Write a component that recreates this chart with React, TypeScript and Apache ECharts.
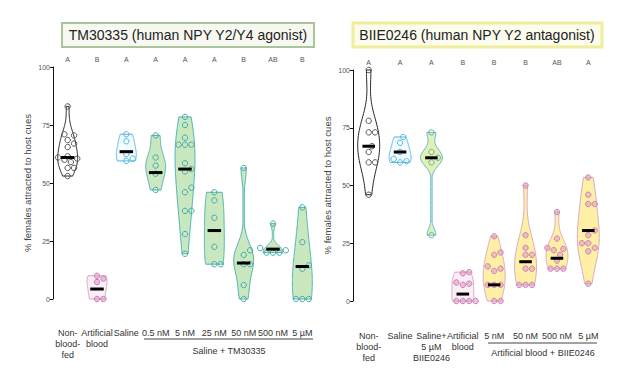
import React, { useEffect, useRef } from "react";
import * as echarts from "echarts";

// ---------- data ----------
const leftCategories = ["Non-\nblood-\nfed", "Artificial\nblood", "Saline", "0.5 nM", "5 nM", "25 nM", "50 nM", "500 nM", "5 µM"];
const leftLetters = ["A", "B", "A", "A", "A", "A", "B", "AB", "B"];
const leftPoints: number[][] = [
  [83, 71, 70.5, 68.5, 67, 65.5, 61.5, 61, 60.5, 60, 59, 56.5, 56.5, 53],
  [10, 8.8, 7.3, 0, 0],
  [71, 68, 62.5, 60.5, 59.5],
  [70.5, 61, 57.5, 54, 47],
  [78.5, 75, 69.5, 66.5, 66.5, 66.5, 58.5, 56, 55, 48, 46, 38, 38, 28, 19.5],
  [46, 42.5, 35, 22.5, 15, 15],
  [56.5, 21, 19, 15, 15, 6, 0],
  [32.5, 22, 21, 20, 20, 20],
  [39.5, 24.5, 14.5, 13, 0, 0, 0],
];
const leftMedians = [61, 4.3, 63.5, 54.5, 56, 29.5, 15.5, 21.5, 14];
const leftGroupName = "Saline + TM30335";

const rightCategories = ["Non-\nblood-\nfed", "Saline", "Saline+\n5 µM\nBIIE0246", "Artificial\nblood", "5 nM", "50 nM", "500 nM", "5 µM"];
const rightLetters = ["A", "A", "A", "B", "B", "B", "AB", "A"];
const rightPoints: number[][] = [
  [100, 78, 73, 73, 67, 64.5, 60, 60, 46],
  [71, 68.5, 64.5, 61.5, 60.5, 60],
  [73, 64.5, 62, 60, 28.5],
  [12.5, 12, 8, 7.5, 7, 0, 0, 0, 0],
  [28, 21, 20, 15, 14, 13, 7, 7, 7, 0, 0],
  [50, 28.5, 23, 20, 20, 14, 14, 7, 7, 7],
  [38.5, 27, 23, 22.5, 22, 20, 17.5, 14, 14, 14],
  [53.5, 46, 42, 42, 30.5, 28.5, 25, 25, 23, 21.5, 7.5],
];
const rightMedians = [67, 64.5, 62, 3, 7, 17, 18.5, 30.5];
const rightGroupName = "Artificial blood + BIIE0246";

const yTicks = [0, 25, 50, 75, 100];
const yName = "% females attracted to host cues";
const leftTitle = "TM30335 (human NPY Y2/Y4 agonist)";
const rightTitle = "BIIE0246 (human NPY Y2 antagonist)";

// ---------- styles ----------
type Sty = { fill: string; stroke: string; dotFill: string; dotStroke: string };
const STY: Record<string, Sty> = {
  nbf: { fill: "#ffffff", stroke: "#222222", dotFill: "rgba(255,255,255,0)", dotStroke: "#555555" },
  ab: { fill: "#fbeef6", stroke: "#d79ec4", dotFill: "rgba(225,150,200,0.55)", dotStroke: "#c77fb0" },
  sal: { fill: "#f3fbff", stroke: "#4fb6e0", dotFill: "rgba(255,255,255,0)", dotStroke: "#4fb6e0" },
  tm: { fill: "#c9e8bf", stroke: "#4db4b4", dotFill: "rgba(255,255,255,0)", dotStroke: "#45a9ab" },
  salb: { fill: "#e3f0b2", stroke: "#62bada", dotFill: "rgba(255,255,255,0)", dotStroke: "#5db3b8" },
  abb: { fill: "#fff0a6", stroke: "#d9a7c2", dotFill: "rgba(225,150,200,0.55)", dotStroke: "#c985b2" },
};
const leftStyleKeys = ["nbf", "ab", "sal", "tm", "tm", "tm", "tm", "tm", "tm"];
const rightStyleKeys = ["nbf", "sal", "salb", "ab", "abb", "abb", "abb", "abb"];

function quantile(s: number[], q: number) {
  const pos = (s.length - 1) * q;
  const lo = Math.floor(pos), hi = Math.ceil(pos);
  return s[lo] + (s[hi] - s[lo]) * (pos - lo);
}

function kdeProfile(pts: number[]): [number, number][] {
  const s = pts.slice().sort((a, b) => a - b);
  const n = s.length;
  const mean = s.reduce((a, b) => a + b, 0) / n;
  const sd = Math.sqrt(s.reduce((a, b) => a + (b - mean) * (b - mean), 0) / Math.max(1, n - 1));
  const iqr = quantile(s, 0.75) - quantile(s, 0.25);
  let spread = Math.min(sd, iqr / 1.34);
  if (!(spread > 0)) spread = sd;
  const h = Math.max(2.2, 1.2 * spread * Math.pow(n, -0.2));
  const lo = s[0], hi = s[n - 1];
  const steps = 80;
  const out: [number, number][] = [];
  let mx = 0;
  for (let k = 0; k <= steps; k++) {
    const y = lo + ((hi - lo) * k) / steps;
    let d = 0;
    for (const p of s) d += Math.exp(-0.5 * ((y - p) / h) ** 2);
    out.push([y, d]);
    if (d > mx) mx = d;
  }
  return out.map(([y, d]) => [y, d / mx]);
}

function violinRender(groups: number[][], keys: string[], frac: number) {
  return (params: any, api: any) => {
    const i = api.value(0);
    const st = STY[keys[i]];
    const band = api.size([1, 0])[0];
    const hw = band * frac;
    const prof = kdeProfile(groups[i]);
    const right = prof.map(([y, d]) => {
      const c = api.coord([i, y]);
      return [c[0] + Math.max(d * hw, 0.7), c[1]];
    });
    const left = prof
      .slice()
      .reverse()
      .map(([y, d]) => {
        const c = api.coord([i, y]);
        return [c[0] - Math.max(d * hw, 0.7), c[1]];
      });
    return {
      type: "polygon",
      shape: { points: right.concat(left) },
      style: { fill: st.fill, stroke: st.stroke, lineWidth: 1 },
    };
  };
}

function dotsRender(groups: number[][], keys: string[]) {
  return (params: any, api: any) => {
    const i = api.value(0);
    const st = STY[keys[i]];
    const r = 2.7;
    const dia = 2 * r + 1;
    const vals = groups[i].slice().sort((a, b) => a - b);
    const placed: [number, number][] = [];
    const children: any[] = [];
    for (const v of vals) {
      const c = api.coord([i, v]);
      const offs = [0, 0.5, -0.5, 1, -1, 1.5, -1.5, 2, -2];
      let x = c[0];
      for (const o of offs) {
        const cx = c[0] + o * dia;
        const ok = placed.every(([px, py]) => Math.hypot(px - cx, py - c[1]) >= dia * 0.95);
        if (ok) { x = cx; break; }
      }
      placed.push([x, c[1]]);
      children.push({
        type: "circle",
        shape: { cx: x, cy: c[1], r },
        style: { fill: st.dotFill, stroke: st.dotStroke, lineWidth: 1 },
      });
    }
    return { type: "group", children };
  };
}

function medianRender(meds: number[], frac: number) {
  return (params: any, api: any) => {
    const i = api.value(0);
    const band = api.size([1, 0])[0];
    const hw = band * frac;
    const c = api.coord([i, meds[i]]);
    return {
      type: "rect",
      shape: { x: c[0] - hw, y: c[1] - 1.5, width: hw * 2, height: 3 },
      style: { fill: "#000000" },
    };
  };
}

const FONT = "Arial, 'Liberation Sans', sans-serif";

export default function App() {
  const ref = useRef<HTMLDivElement>(null);
  useEffect(() => {
    document.body.style.margin = "0";
    if (!ref.current) return;
    const chart = echarts.init(ref.current, null, { renderer: "svg" });

    const yAxisBase = (gridIndex: number) => ({
      type: "value",
      gridIndex,
      min: 0,
      max: 100,
      interval: 25,
      name: yName,
      nameLocation: "middle",
      nameGap: 21,
      nameTextStyle: { fontSize: 9.5, color: "#444", fontFamily: FONT },
      axisLine: { show: true, lineStyle: { color: "#111", width: 1 } },
      axisTick: { show: true, length: 3, lineStyle: { color: "#111" } },
      axisLabel: {
        fontSize: 7,
        color: "#555",
        fontFamily: FONT,
        margin: 3,
        formatter: (v: number) => (yTicks.includes(v) ? String(v) : ""),
      },
      splitLine: { show: false },
    });

    const xBottom = (gridIndex: number, data: string[], margin: number) => ({
      type: "category",
      gridIndex,
      data,
      position: "bottom",
      axisLine: { show: false },
      axisTick: { show: false },
      axisLabel: { interval: 0, fontSize: 9, lineHeight: 11, color: "#333", fontFamily: FONT, margin },
    });
    const xTop = (gridIndex: number, data: string[]) => ({
      type: "category",
      gridIndex,
      data,
      position: "top",
      axisLine: { show: false },
      axisTick: { show: false },
      axisLabel: { interval: 0, fontSize: 7, color: "#555", fontFamily: FONT, margin: 4 },
    });

    const idx = (arr: any[]) => arr.map((_, i) => [i]);

    const panelSeries = (
      xi: number,
      yi: number,
      pts: number[][],
      keys: string[],
      meds: number[],
      frac: number,
      mfrac: number
    ) => [
      {
        type: "custom",
        xAxisIndex: xi,
        yAxisIndex: yi,
        data: idx(pts),
        encode: { x: 0 },
        renderItem: violinRender(pts, keys, frac),
        z: 1,
      },
      {
        type: "custom",
        xAxisIndex: xi,
        yAxisIndex: yi,
        data: idx(pts),
        encode: { x: 0 },
        renderItem: dotsRender(pts, keys),
        z: 2,
      },
      {
        type: "custom",
        xAxisIndex: xi,
        yAxisIndex: yi,
        data: idx(pts),
        encode: { x: 0 },
        renderItem: medianRender(meds, mfrac),
        z: 3,
      },
    ];

    chart.setOption({
      animation: false,
      backgroundColor: "#ffffff",
      grid: [
        { left: 53, top: 67, width: 264, bottom: 73 },
        { left: 353, top: 70, width: 251, bottom: 71 },
      ],
      xAxis: [
        xBottom(0, leftCategories, 28),
        xTop(0, leftLetters),
        xBottom(1, rightCategories, 29),
        xTop(1, rightLetters),
      ],
      yAxis: [yAxisBase(0), yAxisBase(1)],
      series: [
        ...panelSeries(0, 0, leftPoints, leftStyleKeys, leftMedians, 0.34, 0.23),
        ...panelSeries(2, 1, rightPoints, rightStyleKeys, rightMedians, 0.35, 0.2),
      ],
      graphic: [
        {
          type: "rect",
          shape: { x: 62, y: 23, width: 252, height: 24 },
          style: { fill: "#f6f8f1", stroke: "#aac49b", lineWidth: 2 },
        },
        {
          type: "text",
          x: 188,
          y: 35,
          style: { text: leftTitle, fontSize: 14, fontFamily: FONT, fill: "#222", align: "center", verticalAlign: "middle" },
        },
        {
          type: "rect",
          shape: { x: 353, y: 23, width: 249, height: 24 },
          style: { fill: "#fbfbee", stroke: "#eeee9c", lineWidth: 3 },
        },
        {
          type: "text",
          x: 477,
          y: 35,
          style: { text: rightTitle, fontSize: 14, fontFamily: FONT, fill: "#222", align: "center", verticalAlign: "middle" },
        },
        {
          type: "line",
          shape: { x1: 144, y1: 339, x2: 313, y2: 339 },
          style: { stroke: "#444", lineWidth: 1 },
        },
        {
          type: "text",
          x: 229,
          y: 351,
          style: { text: leftGroupName, fontSize: 9, fontFamily: FONT, fill: "#333", align: "center", verticalAlign: "middle" },
        },
        {
          type: "line",
          shape: { x1: 488, y1: 343, x2: 597, y2: 343 },
          style: { stroke: "#444", lineWidth: 1 },
        },
        {
          type: "text",
          x: 543,
          y: 353,
          style: { text: rightGroupName, fontSize: 9, fontFamily: FONT, fill: "#333", align: "center", verticalAlign: "middle" },
        },
      ],
    });
    return () => chart.dispose();
  }, []);
  return <div ref={ref} style={{ width: 640, height: 372 }} />;
}
